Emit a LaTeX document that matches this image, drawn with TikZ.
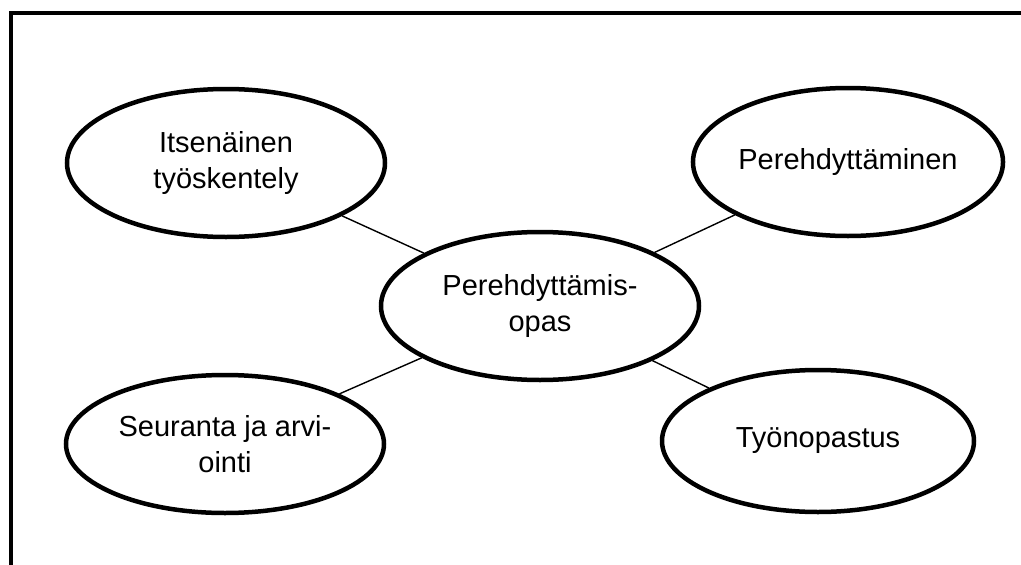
\documentclass[tikz,border=0pt]{standalone}
\usepackage{fontspec}
\setmainfont{Liberation Sans}
\usepackage{tikz}
\usetikzlibrary{shapes.geometric}

\begin{document}
\begin{tikzpicture}[x=1pt,y=-1pt]
	\tikzstyle{aihe}=[ellipse,draw,line width=4.5pt,inner sep=0pt,
	minimum width=318pt,minimum height=148pt,align=center,
	font=\fontsize{29}{36}\selectfont]
	\tikzstyle{kehys}=[line width=4.5pt]
	\tikzstyle{yhteys}=[line width=1.4pt]

	\useasboundingbox (0,0) rectangle (1021,565);
	\draw[kehys] (11,565) -- (11,13) -- (1021,13);

	\node[aihe] (keski) at (540,306) {Perehdyttämis-\\opas};
	\node[aihe] (itse) at (226,163) {Itsenäinen\\työskentely};
	\node[aihe,minimum width=304pt] (pere) at (848,162) {Perehdyttäminen};
	\node[aihe,minimum height=138pt] (seur) at (225,444) {Seuranta ja arvi-\\ointi};
	\node[aihe,minimum width=312pt,minimum height=142pt] (tyo) at (818,441) {Työnopastus};

	\draw[yhteys] (keski) -- (itse);
	\draw[yhteys] (keski) -- (pere);
	\draw[yhteys] (keski) -- (seur);
	\draw[yhteys] (keski) -- (tyo);
\end{tikzpicture}
\end{document}
